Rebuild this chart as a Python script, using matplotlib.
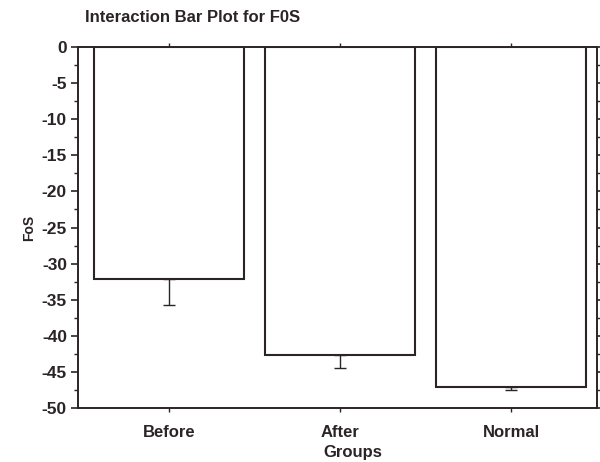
import matplotlib
matplotlib.use("Agg")
import matplotlib.pyplot as plt
from matplotlib.ticker import MultipleLocator

categories = ["Before", "After", "Normal"]
means = [-32.1, -42.6, -47.1]
lower_err = [3.6, 1.8, 0.4]
yticks = [0, -5, -10, -15, -20, -25, -30, -35, -40, -45, -50]

ink = "#2b2427"
plt.rcParams['font.family'] = ['Liberation Sans', 'DejaVu Sans']

fig = plt.figure(figsize=(6.0, 4.62), dpi=100)
ax = fig.add_axes([0.13, 0.117, 0.865, 0.781])

x = list(range(len(categories)))
ax.bar(x, means, width=0.877, color="white", edgecolor=ink, linewidth=1.5, zorder=2)
ax.errorbar(x, means, yerr=[lower_err, [0] * len(means)], fmt="none",
            ecolor=ink, elinewidth=1.0, capsize=4, capthick=1.0, zorder=3)

ax.set_xlim(-0.53, 2.50)
ax.set_ylim(-50, 0)
ax.set_yticks(yticks)
ax.set_yticklabels([str(t) for t in yticks], fontsize=12.5, fontweight="bold", color=ink)
ax.yaxis.set_minor_locator(MultipleLocator(2.5))
ax.set_xticks(x)
ax.set_xticklabels(categories, fontsize=12, fontweight="bold", color=ink)

for s in ax.spines.values():
    s.set_color(ink)
    s.set_linewidth(1.4)

ax.tick_params(axis="y", which="major", direction="out", length=5, width=1.2, color=ink,
               right=True, pad=3)
ax.tick_params(axis="y", which="minor", direction="out", length=3, width=1.0, color=ink,
               right=True)
ax.tick_params(axis="x", which="major", direction="out", length=3, width=1.0, color=ink,
               top=True, pad=9)

ax.set_ylabel("FoS", fontsize=10, fontweight="bold", color=ink, labelpad=4)
ax.text(0.530, -0.124, "Groups", transform=ax.transAxes, ha="center", va="center",
        fontsize=12, fontweight="bold", color=ink)
fig.text(0.142, 0.963, "Interaction Bar Plot for F0S", ha="left", va="center",
         fontsize=12, fontweight="bold", color=ink)

fig.savefig("out.png", dpi=100, facecolor="white")
